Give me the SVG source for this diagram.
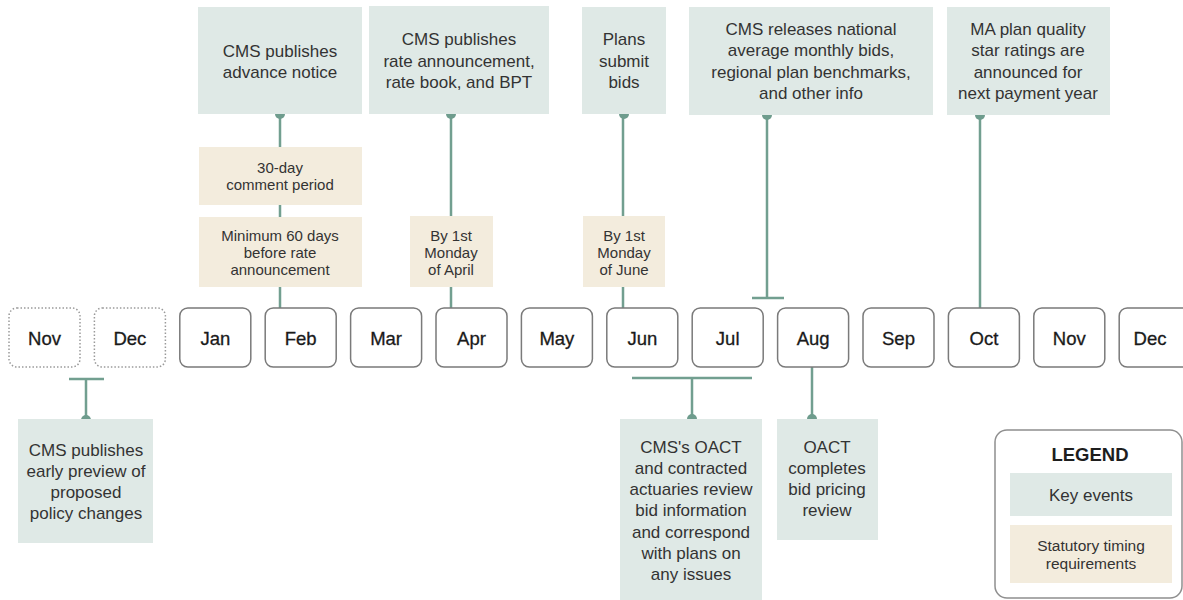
<svg xmlns="http://www.w3.org/2000/svg" width="1183" height="600" viewBox="0 0 1183 600">
<style>
.key{fill:#dfe9e6}
.tan{fill:#f3ecdd}
.mon{fill:#fff;stroke:#7a7a7a;stroke-width:1.5}
.monx{fill:#fff;stroke:#9a9a9a;stroke-width:1.5;stroke-dasharray:1.5 2}
.t{font-family:"Liberation Sans",Arial,sans-serif;font-size:17px;fill:#333;text-anchor:middle}
.s{font-family:"Liberation Sans",Arial,sans-serif;font-size:15px;fill:#333;text-anchor:middle}
.m{font-family:"Liberation Sans",Arial,sans-serif;font-size:18.5px;fill:#1a1a1a;stroke:#1a1a1a;stroke-width:0.3;text-anchor:middle}
.ln{stroke:#729f90;stroke-width:2.5;fill:none}
.dot{fill:#6e9c8d}
</style>
<rect width="1183" height="600" fill="#fff"/>

<g id="connectors">
<path class="ln" d="M280 114V147M280 205V217M280 287V308"/>
<path class="ln" d="M451 114V216M451 287V308"/>
<path class="ln" d="M623 114V216M623 287V308"/>
<path class="ln" d="M767 114V298M752 298H784"/>
<path class="ln" d="M980 114V308"/>
<path class="ln" d="M69 379H104M86 379V420"/>
<path class="ln" d="M632 378H752M692 378V419"/>
<path class="ln" d="M812 367V419"/>
<circle class="dot" cx="280" cy="114" r="5"/>
<circle class="dot" cx="451" cy="114" r="5"/>
<circle class="dot" cx="624" cy="114" r="5"/>
<circle class="dot" cx="767" cy="115" r="5"/>
<circle class="dot" cx="980" cy="115" r="5"/>
<circle class="dot" cx="86" cy="420" r="5"/>
<circle class="dot" cx="692" cy="419" r="5"/>
<circle class="dot" cx="812" cy="419" r="5"/>
</g>

<g id="ev-advance-notice">
<rect class="key" x="198" y="7" width="164" height="107"/>
<text class="t" x="280" y="57">CMS publishes</text>
<text class="t" x="280" y="78">advance notice</text>
</g>
<g id="ev-rate-announcement">
<rect class="key" x="369" y="6" width="180" height="108"/>
<text class="t" x="459" y="45">CMS publishes</text>
<text class="t" x="459" y="67">rate announcement,</text>
<text class="t" x="459" y="88">rate book, and BPT</text>
</g>
<g id="ev-plans-submit">
<rect class="key" x="582" y="7" width="84" height="107"/>
<text class="t" x="624" y="45">Plans</text>
<text class="t" x="624" y="67">submit</text>
<text class="t" x="624" y="88">bids</text>
</g>
<g id="ev-cms-releases">
<rect class="key" x="689" y="7" width="244" height="108"/>
<text class="t" x="811" y="35">CMS releases national</text>
<text class="t" x="811" y="56">average monthly bids,</text>
<text class="t" x="811" y="78">regional plan benchmarks,</text>
<text class="t" x="811" y="99">and other info</text>
</g>
<g id="ev-star-ratings">
<rect class="key" x="947" y="7" width="163" height="108"/>
<text class="t" x="1028" y="35">MA plan quality</text>
<text class="t" x="1028" y="56">star ratings are</text>
<text class="t" x="1028" y="78">announced for</text>
<text class="t" x="1028" y="99">next payment year</text>
</g>

<g id="req-30day">
<rect class="tan" x="199" y="147" width="163" height="58"/>
<text class="s" x="280" y="173">30-day</text>
<text class="s" x="280" y="190">comment period</text>
</g>
<g id="req-60days">
<rect class="tan" x="199" y="217" width="163" height="70"/>
<text class="s" x="280" y="241">Minimum 60 days</text>
<text class="s" x="280" y="258">before rate</text>
<text class="s" x="280" y="275">announcement</text>
</g>
<g id="req-april">
<rect class="tan" x="410" y="216" width="83" height="71"/>
<text class="s" x="451" y="241">By 1st</text>
<text class="s" x="451" y="258">Monday</text>
<text class="s" x="451" y="275">of April</text>
</g>
<g id="req-june">
<rect class="tan" x="583" y="216" width="82" height="71"/>
<text class="s" x="624" y="241">By 1st</text>
<text class="s" x="624" y="258">Monday</text>
<text class="s" x="624" y="275">of June</text>
</g>

<g id="months">
<g id="m-nov0"><rect class="monx" x="9" y="308" width="71" height="59" rx="8"/><text class="m" x="44.5" y="345">Nov</text></g>
<g id="m-dec0"><rect class="monx" x="94.4" y="308" width="71" height="59" rx="8"/><text class="m" x="129.9" y="345">Dec</text></g>
<g id="m-jan"><rect class="mon" x="179.8" y="308" width="71" height="59" rx="8"/><text class="m" x="215.3" y="345">Jan</text></g>
<g id="m-feb"><rect class="mon" x="265.2" y="308" width="71" height="59" rx="8"/><text class="m" x="300.7" y="345">Feb</text></g>
<g id="m-mar"><rect class="mon" x="350.6" y="308" width="71" height="59" rx="8"/><text class="m" x="386.1" y="345">Mar</text></g>
<g id="m-apr"><rect class="mon" x="436" y="308" width="71" height="59" rx="8"/><text class="m" x="471.5" y="345">Apr</text></g>
<g id="m-may"><rect class="mon" x="521.4" y="308" width="71" height="59" rx="8"/><text class="m" x="556.9" y="345">May</text></g>
<g id="m-jun"><rect class="mon" x="606.8" y="308" width="71" height="59" rx="8"/><text class="m" x="642.3" y="345">Jun</text></g>
<g id="m-jul"><rect class="mon" x="692.2" y="308" width="71" height="59" rx="8"/><text class="m" x="727.7" y="345">Jul</text></g>
<g id="m-aug"><rect class="mon" x="777.6" y="308" width="71" height="59" rx="8"/><text class="m" x="813.1" y="345">Aug</text></g>
<g id="m-sep"><rect class="mon" x="863" y="308" width="71" height="59" rx="8"/><text class="m" x="898.5" y="345">Sep</text></g>
<g id="m-oct"><rect class="mon" x="948.4" y="308" width="71" height="59" rx="8"/><text class="m" x="983.9" y="345">Oct</text></g>
<g id="m-nov"><rect class="mon" x="1033.8" y="308" width="71" height="59" rx="8"/><text class="m" x="1069.3" y="345">Nov</text></g>
<g id="m-dec"><rect class="mon" x="1119.2" y="308" width="71" height="59" rx="8"/><text class="m" x="1150" y="345">Dec</text></g>
</g>

<g id="ev-early-preview">
<rect class="key" x="18" y="419" width="135" height="124"/>
<text class="t" x="86" y="456">CMS publishes</text>
<text class="t" x="86" y="477">early preview of</text>
<text class="t" x="86" y="498">proposed</text>
<text class="t" x="86" y="519">policy changes</text>
</g>
<g id="ev-oact-review">
<rect class="key" x="620" y="419" width="142" height="183"/>
<text class="t" x="691" y="453">CMS's OACT</text>
<text class="t" x="691" y="474">and contracted</text>
<text class="t" x="691" y="495">actuaries review</text>
<text class="t" x="691" y="516">bid information</text>
<text class="t" x="691" y="538">and correspond</text>
<text class="t" x="691" y="559">with plans on</text>
<text class="t" x="691" y="580">any issues</text>
</g>
<g id="ev-oact-completes">
<rect class="key" x="777" y="419" width="101" height="121"/>
<text class="t" x="827" y="453">OACT</text>
<text class="t" x="827" y="474">completes</text>
<text class="t" x="827" y="495">bid pricing</text>
<text class="t" x="827" y="516">review</text>
</g>

<g id="legend">
<rect x="995" y="430" width="187" height="168" rx="12" fill="#fff" stroke="#8f8f8f" stroke-width="1.5"/>
<text x="1090" y="461" font-family="Liberation Sans,Arial,sans-serif" font-size="18.5" font-weight="bold" fill="#1e1e1e" text-anchor="middle">LEGEND</text>
<rect class="key" x="1010" y="473" width="162" height="43"/>
<text class="t" x="1091" y="501">Key events</text>
<rect class="tan" x="1010" y="525" width="162" height="58"/>
<text class="s" x="1091" y="551" style="font-size:15.5px">Statutory timing</text>
<text class="s" x="1091" y="569" style="font-size:15.5px">requirements</text>
</g>
</svg>
